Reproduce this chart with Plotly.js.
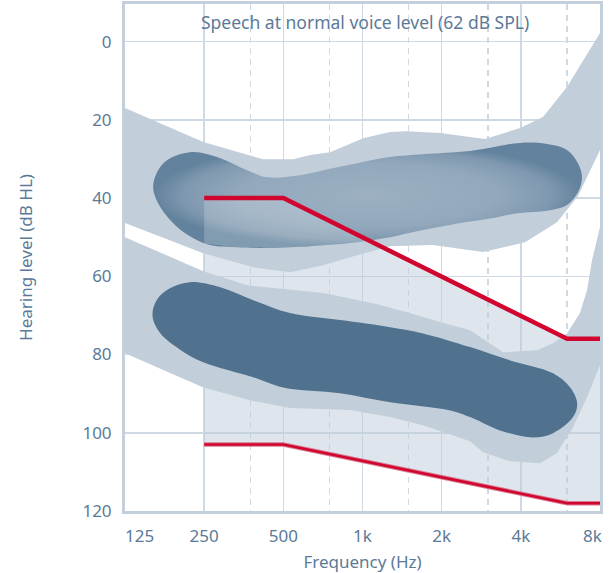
<!DOCTYPE html>
<html>
<head>
<meta charset="utf-8">
<script src="https://cdn.plot.ly/plotly-3.0.1.min.js"></script>
<style>html,body{margin:0;padding:0;background:#fff}#chart{width:609px;height:573px}</style>
</head>
<body>
<div id="chart"></div>
<script>
// ---- axes ----
const xTickVals = [125, 250, 500, 1000, 2000, 4000, 8000];
const xTickText = ['125', '250', '500', '1k', '2k', '4k', '8k'];
const xMinorVals = [375, 750, 1500, 3000, 6000];
const yTickVals = [0, 20, 40, 60, 80, 100, 120];
const chartTitle = 'Speech at normal voice level (62 dB SPL)';
const xTitle = 'Frequency (Hz)';
const yTitle = 'Hearing level (dB HL)';

// ---- upper (soft speech) light band ----
const upBandTopF  = [125, 248, 368, 419, 545, 632, 753, 1005, 1273, 1478, 1972, 2565, 2925, 3972, 4857, 5991, 7018, 8000];
const upBandTopDb = [17.0, 25.7, 29.0, 30.1, 30.1, 29.0, 28.3, 24.7, 23.1, 22.9, 23.4, 24.4, 24.9, 22.1, 19.3, 11.6, 4.0, -2.2];
const upBandBotF  = [8000, 6600, 5490, 4150, 2874, 1854, 1273, 954, 709, 531, 384, 248, 125];
const upBandBotDb = [27.7, 39.5, 46.2, 51.3, 53.8, 52.0, 52.3, 54.6, 57.2, 59.0, 57.7, 54.1, 46.4];

// ---- upper core area (gradient) ----
const upCoreF  = [709, 954, 1273, 1700, 2565, 3972, 5031, 5991, 6598, 6834, 6598, 5991, 5166, 3870, 3137, 2350, 1700, 1273, 954, 709, 531, 334, 248, 186, 160, 175, 221, 288, 364, 434, 579, 709];
const upCoreDb = [32.9, 31.1, 29.5, 28.8, 28.0, 25.9, 26.2, 27.7, 31.1, 34.7, 38.5, 41.8, 43.1, 43.9, 45.1, 46.4, 48.2, 50.0, 51.3, 52.1, 52.6, 52.6, 51.5, 45.7, 37.5, 31.1, 28.3, 29.8, 32.9, 34.7, 34.2, 32.9];
// lighter part of the upper core lying inside the aided region
const upShadeF  = [250, 500, 1057, 954, 709, 531, 334, 250];
const upShadeDb = [40, 40, 50.9, 51.3, 52.1, 52.6, 52.6, 51.6];

// ---- lower (loud speech) light band ----
const loBandTopF  = [125, 248, 364, 579, 709, 1097, 1478, 1972, 2565, 3422, 4611, 5305, 5991, 6714, 7142, 7460, 8000];
const loBandTopDb = [50.0, 58.7, 62.3, 63.6, 64.3, 66.9, 69.2, 71.7, 73.8, 79.4, 78.9, 77.1, 74.6, 69.4, 63.6, 55.9, 47.4];
const loBandBotF  = [8000, 7142, 6316, 5490, 4733, 3640, 2874, 2565, 1700, 1273, 897, 531, 374, 248, 125];
const loBandBotDb = [82.7, 90.9, 98.6, 105.2, 107.8, 107.3, 105.0, 102.2, 98.1, 96.0, 94.2, 93.7, 91.7, 88.4, 79.7];

// ---- lower core area (dark) ----
const loCoreF  = [822, 1273, 1700, 2565, 3640, 5305, 6160, 6553, 6316, 5305, 4450, 3334, 2565, 2157, 1273, 822, 499, 384, 248, 200, 170, 159, 166, 186, 221, 288, 384, 530, 822];
const loCoreDb = [71.2, 73.0, 74.6, 78.1, 81.5, 84.8, 88.4, 92.5, 96.0, 100.1, 101.2, 99.4, 96.0, 94.3, 92.2, 89.9, 88.4, 85.8, 82.0, 78.5, 74.5, 70.0, 65.8, 63.0, 61.5, 62.8, 66.1, 69.4, 71.2];

// ---- red threshold lines ----
const redUpF  = [250, 500, 6000, 8000];
const redUpDb = [40, 40, 76, 76];
const redLoF  = [250, 500, 6000, 8000];
const redLoDb = [103, 103, 118, 118];

// ---- styling ----
const TXT = '#5b7a97';
const FONT = '"Noto Sans", "Open Sans", sans-serif';
const GRID = '#cfd9e3';
const BAND = '#c2ceda';
const DARK = '#50728e';
const RED = '#d0062e';

function poly(f, d, color, extra) {
  return Object.assign({
    type: 'scatter', mode: 'lines', x: f, y: d, fill: 'toself', fillcolor: color,
    line: {width: 0, color: color}, hoverinfo: 'skip', showlegend: false
  }, extra || {});
}

const fillF = redUpF.concat(redLoF.slice().reverse());
const fillDb = redUpDb.concat(redLoDb.slice().reverse());

const traces = [
  poly(fillF, fillDb, 'rgba(189,203,217,0.5)'),
  poly(upBandTopF.concat(upBandBotF), upBandTopDb.concat(upBandBotDb), BAND),
  poly(loBandTopF.concat(loBandBotF), loBandTopDb.concat(loBandBotDb), BAND),
  poly(upCoreF, upCoreDb, '#8fa6bb', {
    line: {width: 0, shape: 'spline', smoothing: 1},
    fillgradient: {type: 'radial', colorscale: [[0, '#9cb0c2'], [0.6, '#92a8bc'], [0.85, '#8099b0'], [1, '#62829d']]}
  }),
  poly(upShadeF, upShadeDb, 'rgba(255,255,255,0.2)'),
  poly(loCoreF, loCoreDb, DARK, {line: {width: 0, shape: 'spline', smoothing: 1}}),
  {type: 'scatter', mode: 'lines', x: redLoF, y: redLoDb, line: {color: 'rgba(214,110,135,0.9)', width: 4.5}, hoverinfo: 'skip'},
  {type: 'scatter', mode: 'lines', x: redLoF, y: redLoDb, line: {color: RED, width: 2.5}, hoverinfo: 'skip'},
  {type: 'scatter', mode: 'lines', x: redUpF, y: redUpDb, line: {color: RED, width: 4.5}, hoverinfo: 'skip'}
];

const n = xTickVals.length;
const shownText = xTickText.map((t, i) => (i === 0 || i === n - 1) ? '' : t);

const layout = {
  width: 609, height: 573,
  margin: {l: 125, r: 9, t: 4, b: 62},
  paper_bgcolor: '#ffffff', plot_bgcolor: '#ffffff',
  showlegend: false,
  font: {family: FONT, size: 17, color: TXT},
  xaxis: {
    type: 'log', range: [Math.log10(xTickVals[0]), Math.log10(xTickVals[n - 1])],
    tickmode: 'array', tickvals: xTickVals, ticktext: shownText,
    showgrid: true, gridcolor: GRID, gridwidth: 1.5,
    minor: {tickmode: 'array', tickvals: xMinorVals, showgrid: true, gridcolor: GRID, gridwidth: 1.3, griddash: '6px,5px', ticks: ''},
    ticks: '', showline: true, mirror: true, linecolor: '#c3cfdb', linewidth: 3,
    zeroline: false, automargin: false, ticklabelstandoff: 8,
    title: {text: xTitle, standoff: 12, font: {size: 17, color: TXT}},
    fixedrange: true
  },
  yaxis: {
    range: [120, -9.6],
    tickmode: 'array', tickvals: yTickVals,
    showgrid: true, gridcolor: GRID, gridwidth: 1.5,
    ticks: '', showline: true, mirror: true, linecolor: '#c3cfdb', linewidth: 3,
    zeroline: false, automargin: false, ticklabelstandoff: 7,
    title: {text: yTitle, standoff: 46, font: {size: 17, color: TXT}},
    fixedrange: true
  },
  annotations: [
    {text: chartTitle, xref: 'paper', x: 0.505, yref: 'y', y: -5, xanchor: 'center', yanchor: 'middle',
     showarrow: false, font: {size: 17.5, color: TXT}},
    {text: xTickText[0], xref: 'x', x: Math.log10(xTickVals[0]), xshift: 14, yref: 'y', y: 120, yshift: -24,
     xanchor: 'center', yanchor: 'middle', showarrow: false, font: {size: 17, color: TXT}},
    {text: xTickText[n - 1], xref: 'x', x: Math.log10(xTickVals[n - 1]), xshift: -8, yref: 'y', y: 120, yshift: -24,
     xanchor: 'center', yanchor: 'middle', showarrow: false, font: {size: 17, color: TXT}}
  ]
};

Plotly.newPlot('chart', traces, layout, {displayModeBar: false, staticPlot: true});
</script>
</body>
</html>
